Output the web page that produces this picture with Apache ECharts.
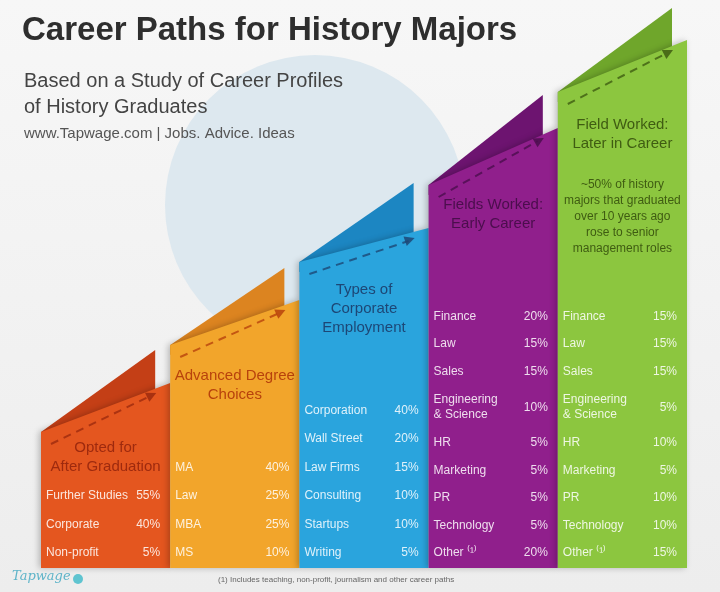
<!DOCTYPE html><html><head><meta charset="utf-8">
<script src="https://cdn.jsdelivr.net/npm/echarts@6/dist/echarts.min.js"></script>
<style>html,body{margin:0;padding:0}#c{width:720px;height:592px}</style></head><body><div id="c"></div>
<script>
const columns = ['Opted for After Graduation','Advanced Degree Choices','Types of Corporate Employment','Fields Worked: Early Career','Field Worked: Later in Career'];
const titles = ['Opted for\nAfter Graduation','Advanced Degree\nChoices','Types of\nCorporate\nEmployment','Fields Worked:\nEarly Career','Field Worked:\nLater in Career'];
const leftHeights = [136,223,306,383,476];
const rightHeights = [185,268,340,440,528];
const peakHeights = [218,300,385,473,560];
const titleHeights = [130,202,288,373,453];
const labels = [
 ['Further Studies','Corporate','Non-profit'],
 ['MA','Law','MBA','MS'],
 ['Corporation','Wall Street','Law Firms','Consulting','Startups','Writing'],
 ['Finance','Law','Sales','Engineering\n& Science','HR','Marketing','PR','Technology','Other ⁽¹⁾'],
 ['Finance','Law','Sales','Engineering\n& Science','HR','Marketing','PR','Technology','Other ⁽¹⁾']
];
const values = [
 [55,40,5],
 [40,25,25,10],
 [40,20,15,10,10,5],
 [20,15,15,10,5,5,5,5,20],
 [15,15,15,5,10,5,10,10,15]
];
const note = '~50% of history\nmajors that graduated\nover 10 years ago\nrose to senior\nmanagement roles';
const colors = ['#e4561f','#f2a52b','#2aa4dd','#901f8c','#8cc63f'];
const flaps = ['#c43f16','#dc8420','#1c86c2','#6d1470','#6fa62b'];
const dark = ['#9e2a0e','#b8420c','#1d4776','#4b0e4d','#3f5c12'];

const chart = echarts.init(document.getElementById('c'));
const data = columns.map((c,i)=>[i,leftHeights[i],rightHeights[i],peakHeights[i],titleHeights[i]]);
chart.setOption({
 backgroundColor: {type:'linear',x:0,y:0,x2:0,y2:1,colorStops:[{offset:0,color:'#f7f7f7'},{offset:1,color:'#ededed'}]},
 animation:false,
 grid:{left:41,right:33,top:0,bottom:24},
 xAxis:{type:'category',data:columns,show:false},
 yAxis:{type:'value',min:0,max:568,show:false},
 graphic:[
  {type:'circle',shape:{cx:315,cy:205,r:150},style:{fill:'#dde8ef'},z:-1},
  {type:'text',left:22,top:14,style:{text:'Career Paths for History Majors',font:'bold 33px "Liberation Sans", Arial',fill:'#2e2e2e'}},
  {type:'text',left:24,top:68,style:{text:'Based on a Study of Career Profiles\nof History Graduates',font:'20px "Liberation Sans", Arial',fill:'#444',lineHeight:26}},
  {type:'text',left:24,top:126,style:{text:'www.Tapwage.com | Jobs. Advice. Ideas',font:'15px "Liberation Sans", Arial',fill:'#555'}},
  {type:'text',left:12,top:570,style:{text:'Tapwage',font:'italic 13px "DejaVu Serif"',fill:'#5fb4c9'}},
  {type:'circle',shape:{cx:78,cy:579,r:5},style:{fill:'#5fc4d0'}},
  {type:'text',left:218,top:576,style:{text:'(1) Includes teaching, non-profit, journalism and other career paths',font:'8px "Liberation Sans", Arial',fill:'#666'}}
 ],
 series:[{
  type:'custom',
  data:data,
  renderItem:function(params,api){
   const i=api.value(0);
   const w=api.size([1,0])[0];
   const pL=api.coord([i,api.value(1)]);
   const x0=pL[0]-w/2, x1=pL[0]+w/2;
   const yL=pL[1];
   const yR=api.coord([i,api.value(2)])[1];
   const yP=api.coord([i,api.value(3)])[1];
   const yT=api.coord([i,api.value(4)])[1];
   const yB=api.coord([i,0])[1];
   const kids=[];
   kids.push({type:'polygon',shape:{points:[[x0,yL],[x1-15,yP],[x1-15,yR+10],[x0,yL+10]]},style:{fill:flaps[i]}});
   kids.push({type:'polygon',shape:{points:[[x0,yL],[x1,yR],[x1,yB],[x0,yB]]},style:{fill:colors[i],shadowBlur:6,shadowColor:'rgba(0,0,0,0.25)',shadowOffsetX:-2}});
   const ax0=x0+10, ay0=yL+12, ax1=x1-14, ay1=yR+10;
   kids.push({type:'line',shape:{x1:ax0,y1:ay0,x2:ax1-6,y2:ay1+3},style:{stroke:dark[i],lineWidth:2,lineDash:[8,6],opacity:0.8}});
   const ang=Math.atan2(ay1-ay0,ax1-ax0);
   const hx=ax1, hy=ay1;
   kids.push({type:'polygon',shape:{points:[[hx,hy],[hx-10*Math.cos(ang)+5*Math.sin(ang),hy-10*Math.sin(ang)-5*Math.cos(ang)],[hx-10*Math.cos(ang)-5*Math.sin(ang),hy-10*Math.sin(ang)+5*Math.cos(ang)]]},style:{fill:dark[i],opacity:0.85}});
   kids.push({type:'text',style:{text:titles[i],x:(x0+x1)/2,y:yT,align:'center',verticalAlign:'top',font:'15px "Liberation Sans", Arial',fill:dark[i],lineHeight:19}});
   if(i===4){
    kids.push({type:'text',style:{text:note,x:(x0+x1)/2,y:yT+62,align:'center',verticalAlign:'top',font:'12px "Liberation Sans", Arial',fill:dark[i],lineHeight:16}});
   }
   const L=labels[i], V=values[i];
   let y=553;
   const ys=[];
   for(let k=L.length-1;k>=0;k--){
     if(L[k].indexOf('\n')>=0){ y-=8; ys[k]=y; y-=36; }
     else { ys[k]=y; y-=(i>=3?27.5:28.5); }
   }
   for(let k=0;k<L.length;k++){
     kids.push({type:'text',style:{text:L[k],x:x0+5,y:ys[k],verticalAlign:'middle',font:'12px "Liberation Sans", Arial',fill:'rgba(255,255,255,0.85)',lineHeight:15}});
     kids.push({type:'text',style:{text:V[k]+'%',x:x1-10,y:ys[k],align:'right',verticalAlign:'middle',font:'12px "Liberation Sans", Arial',fill:'rgba(255,255,255,0.85)'}});
   }
   return {type:'group',children:kids};
  }
 }]
});
</script></body></html>
